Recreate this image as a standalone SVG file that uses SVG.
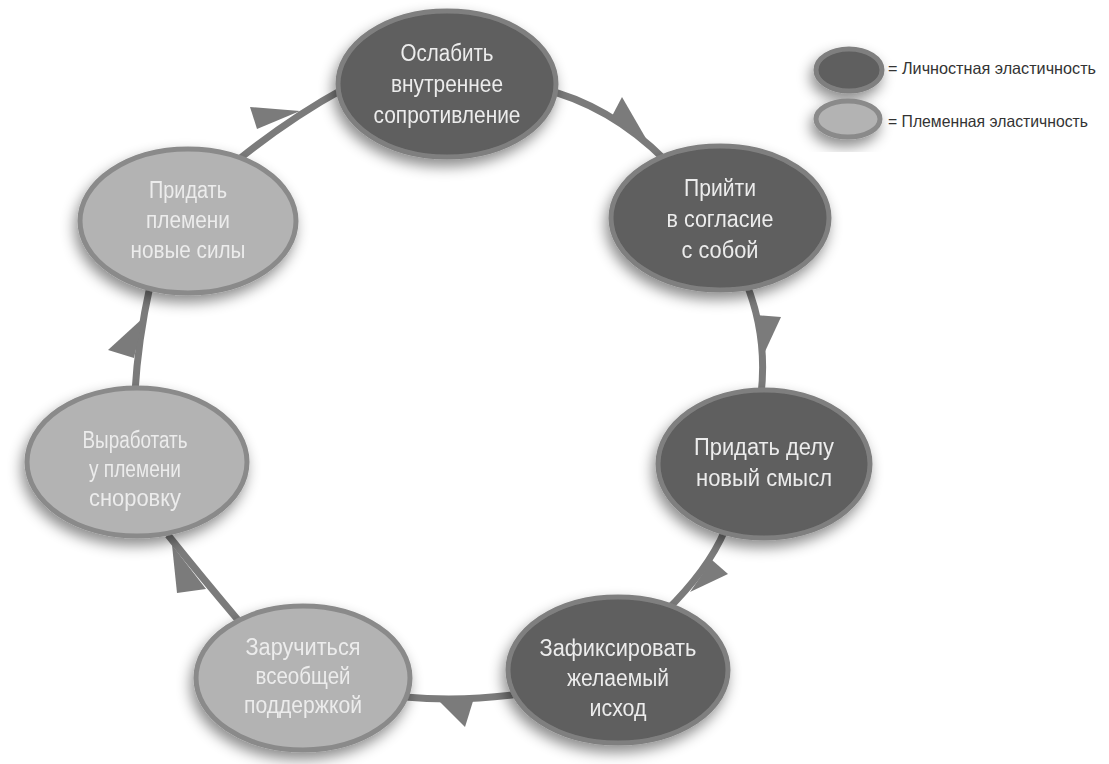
<svg xmlns="http://www.w3.org/2000/svg" width="1109" height="764" viewBox="0 0 1109 764">
<defs>
<filter id="sh" x="-30%" y="-30%" width="160%" height="170%">
<feDropShadow dx="-3" dy="7" stdDeviation="7" flood-color="#000" flood-opacity="0.45"/>
</filter>
<style>
.dark{fill:#5e5e5e;stroke:#7f7f7f;stroke-width:5}
.light{fill:#b3b3b3;stroke:#8a8a8a;stroke-width:5}
.lbl{font-family:"Liberation Sans",Arial,sans-serif;font-size:23px;fill:#ececec;text-anchor:middle}
.leg{font-family:"Liberation Sans",Arial,sans-serif;font-size:16.5px;fill:#333333}
.con{fill:none;stroke:#7b7b7b;stroke-width:7;stroke-linecap:butt}
.ah{fill:#7b7b7b}
</style>
</defs>
<rect width="1109" height="764" fill="#ffffff"/>
<g id="connectors">
<path class="con" d="M 540 88 Q 610 105 665 160"/>
<polygon class="ah" points="611,118 622,97 648,142"/>
<path class="con" d="M 745 280 Q 768 335 761 395"/>
<polygon class="ah" points="756,315 781,317 762,358"/>
<path class="con" d="M 725 530 Q 708 570 665 612"/>
<polygon class="ah" points="712,560 728,574 690,592"/>
<path class="con" d="M 520 694 Q 462 702 405 697"/>
<polygon class="ah" points="474,698 465,727 437,699"/>
<path class="con" d="M 238 620 Q 200 575 168 535"/>
<polygon class="ah" points="206,589 177,593 172,545"/>
<path class="con" d="M 135 392 Q 138 340 150 286"/>
<polygon class="ah" points="134,358 108,350 143,318"/>
<path class="con" d="M 238 160 Q 290 118 345 88"/>
<polygon class="ah" points="257,129 250,107 300,111"/>
</g>
<g id="n1" filter="url(#sh)">
<ellipse class="dark" cx="447" cy="84" rx="109" ry="73"/>
<text class="lbl"><tspan x="447" y="61" textLength="93" lengthAdjust="spacingAndGlyphs">Ослабить</tspan><tspan x="447" y="92" textLength="112" lengthAdjust="spacingAndGlyphs">внутреннее</tspan><tspan x="447" y="123" textLength="147" lengthAdjust="spacingAndGlyphs">сопротивление</tspan></text>
</g>
<g id="n2" filter="url(#sh)">
<ellipse class="dark" cx="720" cy="218" rx="109" ry="72"/>
<text class="lbl"><tspan x="720" y="196" textLength="72" lengthAdjust="spacingAndGlyphs">Прийти</tspan><tspan x="720" y="227" textLength="107" lengthAdjust="spacingAndGlyphs">в согласие</tspan><tspan x="720" y="258" textLength="77" lengthAdjust="spacingAndGlyphs">с собой</tspan></text>
</g>
<g id="n3" filter="url(#sh)">
<ellipse class="dark" cx="764" cy="464" rx="106" ry="74"/>
<text class="lbl"><tspan x="764" y="455" textLength="140" lengthAdjust="spacingAndGlyphs">Придать делу</tspan><tspan x="764" y="486" textLength="136" lengthAdjust="spacingAndGlyphs">новый смысл</tspan></text>
</g>
<g id="n4" filter="url(#sh)">
<ellipse class="dark" cx="618" cy="670" rx="110" ry="73"/>
<text class="lbl"><tspan x="618" y="656" textLength="157" lengthAdjust="spacingAndGlyphs">Зафиксировать</tspan><tspan x="618" y="686" textLength="102" lengthAdjust="spacingAndGlyphs">желаемый</tspan><tspan x="618" y="716" textLength="57" lengthAdjust="spacingAndGlyphs">исход</tspan></text>
</g>
<g id="n5" filter="url(#sh)">
<ellipse class="light" cx="303" cy="678" rx="107" ry="72"/>
<text class="lbl"><tspan x="303" y="655" textLength="115" lengthAdjust="spacingAndGlyphs">Заручиться</tspan><tspan x="303" y="684" textLength="95" lengthAdjust="spacingAndGlyphs">всеобщей</tspan><tspan x="303" y="713" textLength="118" lengthAdjust="spacingAndGlyphs">поддержкой</tspan></text>
</g>
<g id="n6" filter="url(#sh)">
<ellipse class="light" cx="137" cy="462" rx="110" ry="74"/>
<text class="lbl"><tspan x="135" y="448" textLength="105" lengthAdjust="spacingAndGlyphs">Выработать</tspan><tspan x="135" y="477" textLength="92" lengthAdjust="spacingAndGlyphs">у племени</tspan><tspan x="135" y="506" textLength="92" lengthAdjust="spacingAndGlyphs">сноровку</tspan></text>
</g>
<g id="n7" filter="url(#sh)">
<ellipse class="light" cx="188" cy="221" rx="108" ry="72"/>
<text class="lbl"><tspan x="188" y="198" textLength="78" lengthAdjust="spacingAndGlyphs">Придать</tspan><tspan x="188" y="228" textLength="84" lengthAdjust="spacingAndGlyphs">племени</tspan><tspan x="188" y="258" textLength="115" lengthAdjust="spacingAndGlyphs">новые силы</tspan></text>
</g>
<g id="legend">
<ellipse class="dark" cx="849" cy="70" rx="33" ry="21" stroke-width="2" filter="url(#sh)"/>
<text class="leg" x="888" y="74" textLength="208" lengthAdjust="spacingAndGlyphs">= Личностная эластичность</text>
<ellipse class="light" cx="848" cy="119" rx="32" ry="18" stroke-width="2" filter="url(#sh)"/>
<text class="leg" x="888" y="127" textLength="200" lengthAdjust="spacingAndGlyphs">= Племенная эластичность</text>
</g>
</svg>
